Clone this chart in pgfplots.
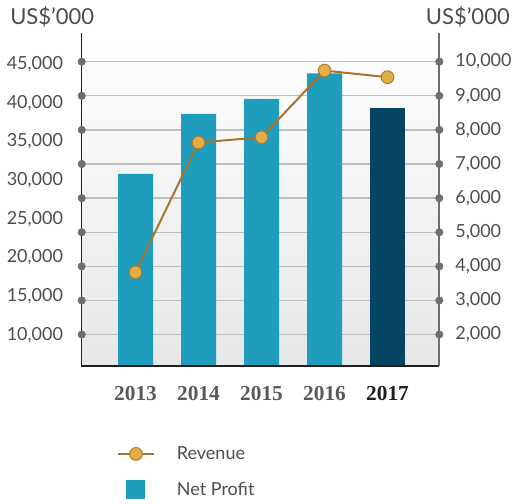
\documentclass[border=0pt]{standalone}
\usepackage{fontspec}
\setmainfont{Lato}
\newfontfamily\yearfont{Liberation Serif}
\usepackage{pgfplots}
\pgfplotsset{compat=1.18}
\definecolor{barc}{HTML}{1E9DBD}
\definecolor{barlast}{HTML}{054564}
\definecolor{revline}{HTML}{A8742F}
\definecolor{revfill}{HTML}{E3AE47}
\definecolor{revedge}{HTML}{B07A2C}
\definecolor{gridc}{HTML}{BCBEC0}
\definecolor{dotc}{HTML}{6D6E71}
\definecolor{txt}{HTML}{4D4D4F}
\definecolor{yearc}{HTML}{58595B}
\definecolor{axisdark}{HTML}{231F20}
\definecolor{bgbottom}{HTML}{E6E7E8}
\begin{document}
\begin{tikzpicture}
\pgfplotsset{
  common/.style={
    scale only axis, width=268.2pt, height=249.5pt,
    xmin=-0.854, xmax=4.822,
    axis line style={draw=none},
    major tick length=0pt,
    tick style={draw=none},
    /pgf/number format/.cd, 1000 sep={,}, assume math mode=true, /pgfplots/.cd,
    scaled y ticks=false,
    yticklabel style={font=\fontsize{13.5}{16}\selectfont, text=txt, inner sep=0pt},
  }
}
% right axis (Net Profit bars)
\begin{axis}[common,
  axis background/.style={shade, top color=white, bottom color=bgbottom},
  ymin=1079.5, ymax=10833,
  ytick={2000,3000,...,10000},
  ymajorgrids, grid style={gridc, line width=1pt},
  yticklabel pos=right,
  yticklabel style={anchor=west, xshift=11.8pt},
  xtick=\empty,
  clip mode=individual,
]
\addplot[ybar, bar width=26.25pt, bar shift=0pt, fill=barc, draw=none] coordinates {(0,6710) (1,8467) (2,8907) (3,9661)};
\addplot[ybar, bar width=26.25pt, bar shift=0pt, fill=barlast, draw=none] coordinates {(4,8643)};
\draw[axisdark, line width=1pt] (rel axis cs:0,1) -- (rel axis cs:0,0) -- (rel axis cs:1,0);
\draw[dotc, line width=1.3pt] (rel axis cs:1,0) -- (rel axis cs:1,1);
\addplot[only marks, mark=*, mark size=2.8pt, color=dotc] coordinates {
(-0.854,2000) (-0.854,3000) (-0.854,4000) (-0.854,5000) (-0.854,6000) (-0.854,7000) (-0.854,8000) (-0.854,9000) (-0.854,10000)
(4.822,2000) (4.822,3000) (4.822,4000) (4.822,5000) (4.822,6000) (4.822,7000) (4.822,8000) (4.822,9000) (4.822,10000)};
\end{axis}
% left axis (Revenue line)
\begin{axis}[common,
  ymin=5996, ymax=48969,
  ytick={10000,15000,...,45000},
  yticklabel style={anchor=east, xshift=-13.8pt},
  xtick={0,1,2,3,4},
  xticklabels={2013,2014,2015,2016,{\color{axisdark}2017}},
  xticklabel style={font=\yearfont\fontsize{16}{18}\selectfont\bfseries, text=yearc, anchor=north, inner sep=0pt, yshift=-15pt},
  clip=false,
  legend style={at={(0.0996,-0.236)}, anchor=north west, draw=none, fill=none,
    inner sep=0pt, outer sep=0pt, font=\fontsize{13.5}{16}\selectfont, text=txt,
    row sep=12.8pt, column sep=16.7pt, nodes={inner sep=0pt}},
  legend cell align=left,
]
\addplot[revline, line width=1.5pt, mark=*, mark size=4.75pt,
  mark options={fill=revfill, draw=revedge, line width=0.75pt},
  legend image code/.code={
    \path[draw=none, fill=none] (0pt,-7.1pt) rectangle (26.5pt,7.1pt);
    \draw[revline, line width=1.5pt] (0pt,0pt) -- (26.5pt,0pt);
    \draw[revedge, fill=revfill, line width=0.75pt] (13.25pt,0pt) circle (4.75pt);
  }] coordinates {(0,18100) (1,34850) (2,35540) (3,44150) (4,43300)};
\addlegendentry{Revenue}
\addlegendimage{legend image code/.code={
    \path[draw=none, fill=none] (0pt,-7.1pt) rectangle (26.5pt,7.1pt);
    \fill[barc, draw=none] (5.8pt,-7.1pt) rectangle (20.05pt,7.1pt);
  }}
\addlegendentry{Net Profit}
\node[anchor=base west, inner sep=0pt, font=\fontsize{16.5}{20}\selectfont, text=txt] at (rel axis cs:-0.2005,1.025) {US\$’000};
\node[anchor=base east, inner sep=0pt, font=\fontsize{16.5}{20}\selectfont, text=txt] at (rel axis cs:1.1977,1.025) {US\$’000};
\coordinate (bbSW) at (rel axis cs:-0.2285,-0.4148);
\coordinate (bbNE) at (rel axis cs:1.2033,1.1001);
\end{axis}
\pgfresetboundingbox
\path (bbSW) rectangle (bbNE);
\end{tikzpicture}
\end{document}
